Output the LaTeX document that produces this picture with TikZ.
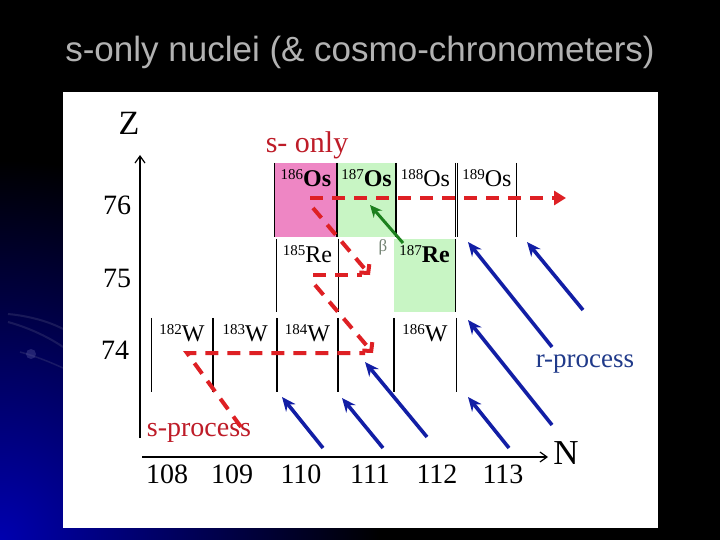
\documentclass[tikz,border=0pt]{standalone}
\usepackage{fontspec}
\setmainfont{Liberation Serif}
\newfontfamily\titlefont{Liberation Sans}
\usetikzlibrary{arrows.meta}
\definecolor{slideBlue}{RGB}{0,0,175}
\definecolor{cellPink}{RGB}{238,134,196}
\definecolor{cellGreen}{RGB}{200,245,196}
\definecolor{sRed}{RGB}{222,32,36}
\definecolor{sText}{RGB}{190,28,40}
\definecolor{rBlue}{RGB}{18,30,165}
\definecolor{rText}{RGB}{32,58,138}
\definecolor{betaGreen}{RGB}{28,128,30}
\definecolor{betaGray}{RGB}{115,130,115}
\definecolor{titleGray}{RGB}{178,178,178}

\newcommand{\nuc}[2]{\raisebox{7pt}{\fontsize{15}{15}\selectfont #1}#2}

\tikzset{
  cell/.style={rectangle, inner sep=0pt, minimum height=74pt, minimum width=61pt},
  iso/.style={inner sep=0pt, anchor=north, font=\fontsize{24}{26}\selectfont},
  tick/.style={inner sep=0pt, font=\fontsize{28}{30}\selectfont},
  side/.style={line width=1.1pt},
  axis/.style={line width=1.2pt, -{Straight Barb[length=7pt,width=10pt]}},
  spath/.style={sRed, line width=4pt, dash pattern=on 13pt off 9pt},
  sbarb/.style={-{Straight Barb[length=6pt,width=13pt]}},
  rarrow/.style={rBlue, line width=3.6pt, -{Stealth[length=14pt,width=12pt]}},
}

\begin{document}
\begin{tikzpicture}[x=1pt,y=-1pt]
\useasboundingbox (0,0) rectangle (720,540);
\begin{scope}
  \clip (0,0) rectangle (720,540);
  \fill[black] (0,0) rectangle (720,540);
  \shade[inner color=slideBlue, outer color=black] (0,540) circle (380);
  \draw[black!75!blue!60, line width=2pt, opacity=.25] (8,314) .. controls (30,316) and (50,322) .. (63,329);
  \draw[black!75!blue!60, line width=2pt, opacity=.25] (8,322) .. controls (30,328) and (50,338) .. (63,347);
  \draw[black!75!blue!60, line width=1.5pt, opacity=.25] (20,352) .. controls (35,356) and (50,362) .. (63,368);
  \fill[black!60!blue!70, opacity=.45] (31,354) circle (5);
\end{scope}
\fill[white] (63,92) rectangle (658,528);

\node[font=\titlefont\fontsize{35}{40}\selectfont, text=titleGray, inner sep=0pt] (title) at (360,52) {s-only nuclei (\& cosmo-chronometers)};

\node[cell, minimum width=62pt, fill=cellPink] (os186) at (306,200) {};
\node[cell, minimum width=59pt, fill=cellGreen] (os187) at (366.5,200) {};
\node[cell, minimum width=59pt] (os188) at (425.5,200) {};
\node[cell, minimum width=58pt] (os189) at (487,200) {};
\node[cell, minimum height=73pt] (re185) at (307.5,275.5) {};
\node[cell, minimum height=73pt, fill=cellGreen] (re187) at (424.5,275.5) {};
\node[cell, minimum width=60pt] (w182) at (182,355) {};
\node[cell, minimum width=63.5pt] (w183) at (245.25,355) {};
\node[cell] (w184) at (307.5,355) {};
\node[cell, minimum width=56pt] (w185) at (366,355) {};
\node[cell, minimum width=62pt] (w186) at (425,355) {};

\foreach \c in {os186,os187,os188,os189,re185,w182,w183,w184,w185,w186}
  \draw[side] (\c.north west) -- (\c.south west) (\c.north east) -- (\c.south east);
\draw[side] (re187.north east) -- (re187.south east);

\node[iso] (os186-t) at ([yshift=-7pt]os186.north) {\nuc{186}{\textbf{Os}}};
\node[iso] (os187-t) at ([yshift=-7pt]os187.north) {\nuc{187}{\textbf{Os}}};
\node[iso] (os188-t) at ([yshift=-7pt]os188.north) {\nuc{188}{Os}};
\node[iso] (os189-t) at ([yshift=-7pt]os189.north) {\nuc{189}{Os}};
\node[iso] (re185-t) at ([yshift=-7pt]re185.north) {\nuc{185}{Re}};
\node[iso] (re187-t) at ([yshift=-7pt]re187.north) {\nuc{187}{\textbf{Re}}};
\node[iso] (w182-t) at ([yshift=-7pt]w182.north) {\nuc{182}{W}};
\node[iso] (w183-t) at ([yshift=-7pt]w183.north) {\nuc{183}{W}};
\node[iso] (w184-t) at ([yshift=-7pt]w184.north) {\nuc{184}{W}};
\node[iso] (w186-t) at ([yshift=-7pt]w186.north) {\nuc{186}{W}};

\coordinate (zbot) at (140,438);
\coordinate (ztop) at (140,155);
\draw[axis] (zbot) -- (ztop);
\coordinate (nleft) at (142,457);
\coordinate (nright) at (548,457);
\draw[axis] (nleft) -- (nright);
\node[inner sep=0pt, font=\fontsize{34}{36}\selectfont] (zlab) at (129,123.5) {Z};
\node[inner sep=0pt, font=\fontsize{35}{36}\selectfont] (nlab) at (566,453.5) {N};

\node[tick] (z76) at (117,205.5) {76};
\node[tick] (z75) at (117,278.5) {75};
\node[tick] (z74) at (115,350) {74};
\foreach \n/\x in {108/167,109/232,110/301,111/370,112/437,113/503}
  \node[tick] (n\n) at (\x,474.5) {\n};

\node[inner sep=0pt, text=sText, font=\fontsize{30}{32}\selectfont] (sonly) at (307,145) {s- only};
\node[inner sep=0pt, text=sText, font=\fontsize{28}{30}\selectfont] (sproc) at (199,433) {s-process};
\node[inner sep=0pt, text=rText, font=\fontsize{27}{30}\selectfont] (rproc) at (585,364.5) {r-process};
\node[inner sep=0pt, text=betaGray, font=\fontsize{17}{18}\selectfont] (beta) at (383,247) {β};

\coordinate (s1) at (241,427);
\coordinate (s2) at (187,353);
\coordinate (s3) at (365,353);
\draw[spath] (s1) -- (s2) -- (s3);
\coordinate (s4) at (315,285);
\coordinate (s5) at (373,353);
\draw[spath, sbarb] (s4) -- (s5);
\coordinate (s6) at (313,275);
\coordinate (s7) at (362,275);
\draw[spath] (s6) -- (s7);
\coordinate (s8) at (313,208);
\coordinate (s9) at (370,275);
\draw[spath, sbarb] (s8) -- (s9);
\coordinate (s10) at (310,198);
\coordinate (s11) at (566,198);
\draw[spath, -{Triangle[length=12pt,width=14pt]}] (s10) -- (s11);

\coordinate (bt) at (403,243);
\coordinate (bh) at (370,205);
\draw[betaGreen, line width=3pt, -{Stealth[length=12pt,width=11pt]}] (bt) -- (bh);

\foreach \i/\tx/\ty/\hx/\hy in {1/323/448/282/397, 2/383/448/342/398, 3/427/437/365/362,
    4/509/448/468/397, 5/552/425/468/320, 6/552/347/468/242, 7/583/310/527/242} {
  \coordinate (rt\i) at (\tx,\ty);
  \coordinate (rh\i) at (\hx,\hy);
  \draw[rarrow] (rt\i) -- (rh\i);
}
\end{tikzpicture}
\end{document}
